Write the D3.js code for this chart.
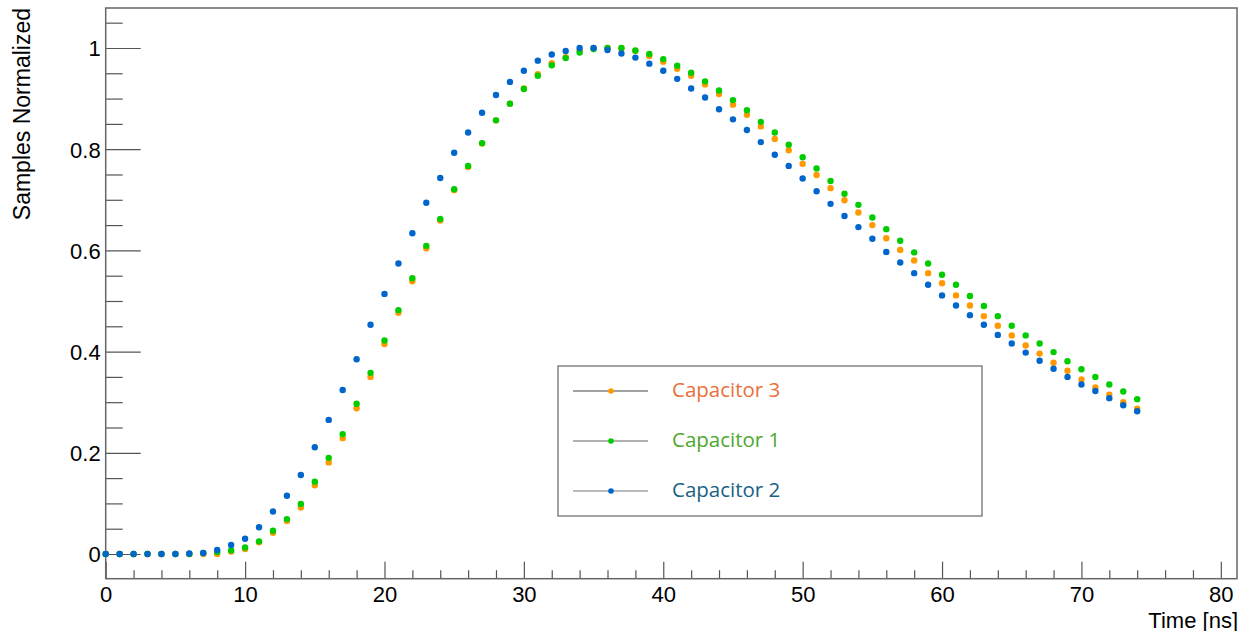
<!DOCTYPE html>
<html>
<head>
<meta charset="utf-8">
<script src="https://cdn.jsdelivr.net/npm/d3@7"></script>
<style>
  html, body { margin: 0; padding: 0; background: #fff; }
  svg { display: block; }
</style>
</head>
<body>
<svg id="chart" width="1240" height="631"></svg>
<script>
// ---------- data ----------
const timeNs = d3.range(0, 75); // sample times 0..74 ns
const capacitor3 = [0,0,0,0,0,0,0,0,0,0.005,0.010,0.023,0.042,0.065,0.092,0.136,0.181,0.229,0.288,0.350,
  0.415,0.477,0.539,0.604,0.659,0.719,0.765,0.811,0.857,0.890,0.920,0.948,0.970,0.982,0.995,1.0,1.0,0.999,0.994,0.984,
  0.973,0.959,0.945,0.928,0.909,0.888,0.868,0.845,0.820,0.798,0.771,0.749,0.723,0.699,0.675,0.650,0.624,0.601,0.580,0.555,
  0.535,0.511,0.491,0.470,0.451,0.432,0.412,0.396,0.378,0.362,0.345,0.329,0.315,0.300,0.287];
const capacitor1 = [0,0,0,0,0,0,0,0.002,0.004,0.007,0.013,0.025,0.046,0.069,0.099,0.143,0.190,0.237,0.297,0.358,
  0.422,0.482,0.545,0.609,0.662,0.721,0.767,0.812,0.857,0.890,0.919,0.945,0.966,0.980,0.991,0.998,1.0,1.0,0.995,0.988,
  0.978,0.965,0.951,0.934,0.916,0.897,0.877,0.854,0.833,0.809,0.784,0.762,0.737,0.712,0.690,0.665,0.642,0.619,0.596,0.574,
  0.552,0.532,0.510,0.490,0.470,0.451,0.432,0.416,0.399,0.381,0.365,0.350,0.335,0.321,0.306];
const capacitor2 = [0,0,0,0,0,0,0.001,0.002,0.008,0.018,0.030,0.053,0.084,0.115,0.156,0.211,0.265,0.324,0.385,0.453,
  0.514,0.574,0.634,0.694,0.743,0.793,0.833,0.872,0.907,0.933,0.955,0.975,0.987,0.994,1.0,1.0,0.996,0.989,0.981,0.969,
  0.955,0.939,0.920,0.902,0.879,0.859,0.838,0.814,0.789,0.767,0.742,0.717,0.692,0.668,0.646,0.623,0.597,0.576,0.555,0.532,
  0.511,0.491,0.472,0.453,0.433,0.416,0.398,0.382,0.366,0.350,0.335,0.322,0.308,0.294,0.282];
const seriesNames = ["Capacitor 3", "Capacitor 1", "Capacitor 2"];
const xTickValues = [0, 10, 20, 30, 40, 50, 60, 70, 80];
const xTickLabels = ["0", "10", "20", "30", "40", "50", "60", "70", "80"];
const yTickValues = [0, 0.2, 0.4, 0.6, 0.8, 1];
const yTickLabels = ["0", "0.2", "0.4", "0.6", "0.8", "1"];
const xTitle = "Time [ns]";
const yTitle = "Samples Normalized";

// ---------- styles ----------
const markerColors = ["#ff9900", "#00cc00", "#0066cc"];
const legendTextColors = ["#e8703a", "#4ea72e", "#1a6183"];
const legendLineColors = ["#444", "#666", "#777"];
const axisColor = "#555";

const svg = d3.select("#chart");
const L = 105.7, R = 1237, T = 8, B = 578.7;
const x = d3.scaleLinear().domain([0, 81.16]).range([L, R]);
const y = d3.scaleLinear().domain([-0.0488, 1.079]).range([B, T]);

const axisFont = "'Liberation Sans', Arial, Helvetica, sans-serif";

// minor ticks
const xMinor = d3.range(0, 81.16, 2).filter(v => !xTickValues.includes(v));
const yMinor = d3.range(-0.05, 1.079, 0.05).map(v => +v.toFixed(2))
  .filter(v => y(v) <= B && !yTickValues.some(m => Math.abs(m - v) < 1e-6));

const gx = svg.append("g").attr("transform", `translate(0,${B})`);
gx.call(d3.axisBottom(x).tickValues(xTickValues).tickSize(-17).tickFormat((d, i) => xTickLabels[i]));
const gxm = svg.append("g").attr("transform", `translate(0,${B})`);
gxm.call(d3.axisBottom(x).tickValues(xMinor).tickSize(-8.5).tickFormat(""));

const gy = svg.append("g").attr("transform", `translate(${L},0)`);
gy.call(d3.axisLeft(y).tickValues(yTickValues).tickSize(-35).tickFormat((d, i) => yTickLabels[i]));
const gym = svg.append("g").attr("transform", `translate(${L},0)`);
gym.call(d3.axisLeft(y).tickValues(yMinor).tickSize(-17).tickFormat(""));

[gx, gxm, gy, gym].forEach(g => {
  g.select(".domain").remove();
  g.selectAll(".tick line").attr("stroke", axisColor).attr("stroke-width", 1.2);
});
gx.selectAll(".tick text")
  .attr("y", 23.5).attr("dy", 0)
  .attr("font-family", axisFont).attr("font-size", 22).attr("fill", "#000");
gy.selectAll(".tick text")
  .attr("x", -5).attr("dy", "0.36em")
  .attr("font-family", axisFont).attr("font-size", 22).attr("fill", "#000");

// frame
svg.append("rect")
  .attr("x", L).attr("y", T).attr("width", R - L).attr("height", B - T)
  .attr("fill", "none").attr("stroke", "#666").attr("stroke-width", 1.5);

// axis titles
svg.append("text")
  .attr("x", R + 1).attr("y", 627.5)
  .attr("text-anchor", "end")
  .attr("font-family", axisFont).attr("font-size", 22)
  .text(xTitle);
svg.append("text")
  .attr("transform", `translate(30,${T}) rotate(-90)`)
  .attr("text-anchor", "end")
  .attr("font-family", axisFont).attr("font-size", 23)
  .text(yTitle);

// data points: orange, green, blue (blue on top)
const allSeries = [capacitor3, capacitor1, capacitor2];
allSeries.forEach((vals, si) => {
  svg.append("g").selectAll("circle")
    .data(vals.map((v, i) => ({ t: timeNs[i], v })))
    .join("circle")
    .attr("cx", d => x(d.t))
    .attr("cy", d => y(d.v))
    .attr("r", 3.2)
    .attr("fill", markerColors[si]);
});

// legend
const lg = svg.append("g");
lg.append("rect")
  .attr("x", 558).attr("y", 366).attr("width", 424).attr("height", 150)
  .attr("fill", "#fff").attr("stroke", "#666").attr("stroke-width", 1.2);
const rowY = [391, 441, 491];
seriesNames.forEach((name, i) => {
  lg.append("line")
    .attr("x1", 573).attr("x2", 648).attr("y1", rowY[i]).attr("y2", rowY[i])
    .attr("stroke", legendLineColors[i]).attr("stroke-width", 1.2);
  lg.append("circle")
    .attr("cx", 611).attr("cy", rowY[i]).attr("r", 2.8)
    .attr("fill", markerColors[i]);
  lg.append("text")
    .attr("x", 672).attr("y", rowY[i] + 5.5)
    .attr("font-family", "'Open Sans', 'Noto Sans', sans-serif")
    .attr("font-size", 20.5)
    .attr("fill", legendTextColors[i])
    .text(name);
});
</script>
</body>
</html>
